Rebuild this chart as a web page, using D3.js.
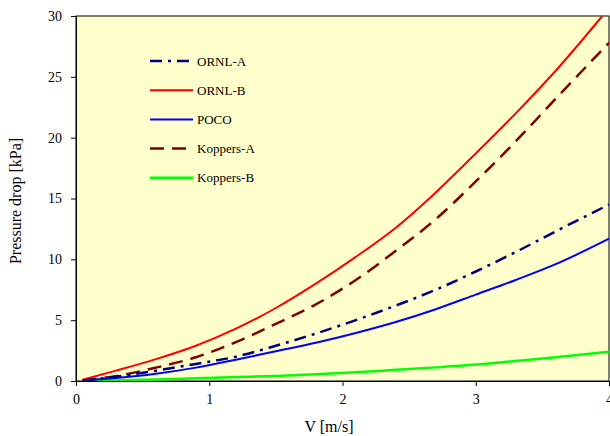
<!DOCTYPE html>
<html>
<head>
<meta charset="utf-8">
<script src="https://cdn.jsdelivr.net/npm/d3@7"></script>
<style>
  body { margin: 0; background: #fff; }
  text { font-family: "Liberation Serif", "Times New Roman", serif; }
</style>
</head>
<body>
<div class="canva"></div>
<script>
// velocity values (m/s) where the curves were read
var velocity = [0.05, 0.3, 0.6, 0.9, 1.2, 1.5, 1.8, 2.1, 2.4, 2.7, 3.0, 3.3, 3.6, 3.95];
var velocityK = [0.05, 0.3, 0.6, 0.9, 1.2, 1.5, 1.8, 2.1, 2.4, 2.7, 3.0, 3.3, 3.6, 4.0];

// pressure drop (kPa)
var ornlA    = [0.05, 0.35, 0.85, 1.4, 2.0, 2.9, 3.9, 5.0, 6.2, 7.5, 9.0, 10.6, 12.3, 14.5];
var ornlB    = [0.1, 0.85, 1.8, 2.9, 4.3, 6.0, 8.0, 10.2, 12.6, 15.5, 18.7, 22.0, 25.5, 30.0];
var poco     = [0.05, 0.25, 0.6, 1.1, 1.75, 2.45, 3.15, 3.95, 4.85, 5.9, 7.1, 8.3, 9.6, 11.7];
var koppersA = [0.05, 0.4, 1.1, 1.95, 3.2, 4.7, 6.3, 8.3, 10.7, 13.3, 16.4, 19.7, 23.2, 27.8];
var koppersB = [0.0, 0.05, 0.12, 0.22, 0.32, 0.42, 0.55, 0.72, 0.92, 1.12, 1.35, 1.65, 1.95, 2.4];

var xTicks = [0, 1, 2, 3, 4];
var yTicks = [0, 5, 10, 15, 20, 25, 30];

var series = [
  {name: "ORNL-A",    xs: velocityK, ys: ornlA,    color: "#000080", width: 2.5, dash: "12,6,3,6"},
  {name: "ORNL-B",    xs: velocity,  ys: ornlB,    color: "#FF0000", width: 2,   dash: null},
  {name: "POCO",      xs: velocityK, ys: poco,     color: "#0000FF", width: 2,   dash: null},
  {name: "Koppers-A", xs: velocityK, ys: koppersA, color: "#800000", width: 2.5, dash: "14,8"},
  {name: "Koppers-B", xs: velocityK, ys: koppersB, color: "#00FF00", width: 2.5, dash: null}
];

const svg = d3.select(".canva").append("svg")
    .attr("width", 610)
    .attr("height", 436);

const plot = {left: 76, right: 609, top: 16, bottom: 381};

var x = d3.scaleLinear().domain([0, 4]).range([plot.left, plot.right]);
var y = d3.scaleLinear().domain([0, 30]).range([plot.bottom, plot.top]);

// plot background
svg.append("rect")
    .attr("x", plot.left).attr("y", plot.top)
    .attr("width", plot.right - plot.left)
    .attr("height", plot.bottom - plot.top)
    .attr("fill", "#FFFFCC")
    .attr("stroke", "#000")
    .attr("stroke-width", 1);

svg.append("clipPath").attr("id", "clip")
  .append("rect")
    .attr("x", plot.left).attr("y", plot.top - 1)
    .attr("width", plot.right - plot.left)
    .attr("height", plot.bottom - plot.top + 1);

var line = d3.line()
    .curve(d3.curveMonotoneX)
    .x(d => x(d[0]))
    .y(d => y(d[1]));

var lines = svg.append("g").attr("clip-path", "url(#clip)");
series.slice().reverse().forEach(function(s) {
  lines.append("path")
      .datum(s.xs.map((v, i) => [v, s.ys[i]]))
      .attr("fill", "none")
      .attr("stroke", s.color)
      .attr("stroke-width", s.width)
      .attr("stroke-dasharray", s.dash)
      .attr("d", line);
});

// axes
var xAxis = d3.axisBottom(x).tickValues(xTicks).tickSize(5).tickPadding(8).tickFormat(d3.format("d"));
var yAxis = d3.axisLeft(y).tickValues(yTicks).tickSize(5).tickPadding(9).tickFormat(d3.format("d"));

var gx = svg.append("g")
    .attr("transform", "translate(0," + plot.bottom + ")")
    .call(xAxis);
var gy = svg.append("g")
    .attr("transform", "translate(" + plot.left + ",0)")
    .call(yAxis);

[gx, gy].forEach(function(g) {
  g.select(".domain").attr("stroke", "#000");
  g.selectAll(".tick line").attr("stroke", "#000");
  g.selectAll(".tick text")
      .attr("fill", "#000")
      .style("font-family", '"Liberation Serif", "Times New Roman", serif')
      .style("font-size", "14px");
});

svg.append("text")
    .attr("x", 329).attr("y", 432)
    .attr("text-anchor", "middle")
    .style("font-size", "16px")
    .text("V [m/s]");

svg.append("text")
    .attr("transform", "translate(21,201) rotate(-90)")
    .attr("text-anchor", "middle")
    .style("font-size", "16px")
    .text("Pressure drop [kPa]");

// legend
var legend = svg.append("g");
series.forEach(function(s, i) {
  var ly = 61 + i * 29.2;
  legend.append("line")
      .attr("x1", 150).attr("x2", 193)
      .attr("y1", ly).attr("y2", ly)
      .attr("stroke", s.color)
      .attr("stroke-width", s.width)
      .attr("stroke-dasharray", s.dash);
  legend.append("text")
      .attr("x", 197).attr("y", ly + 4.5)
      .style("font-size", "13px")
      .text(s.name);
});
</script>
</body>
</html>
